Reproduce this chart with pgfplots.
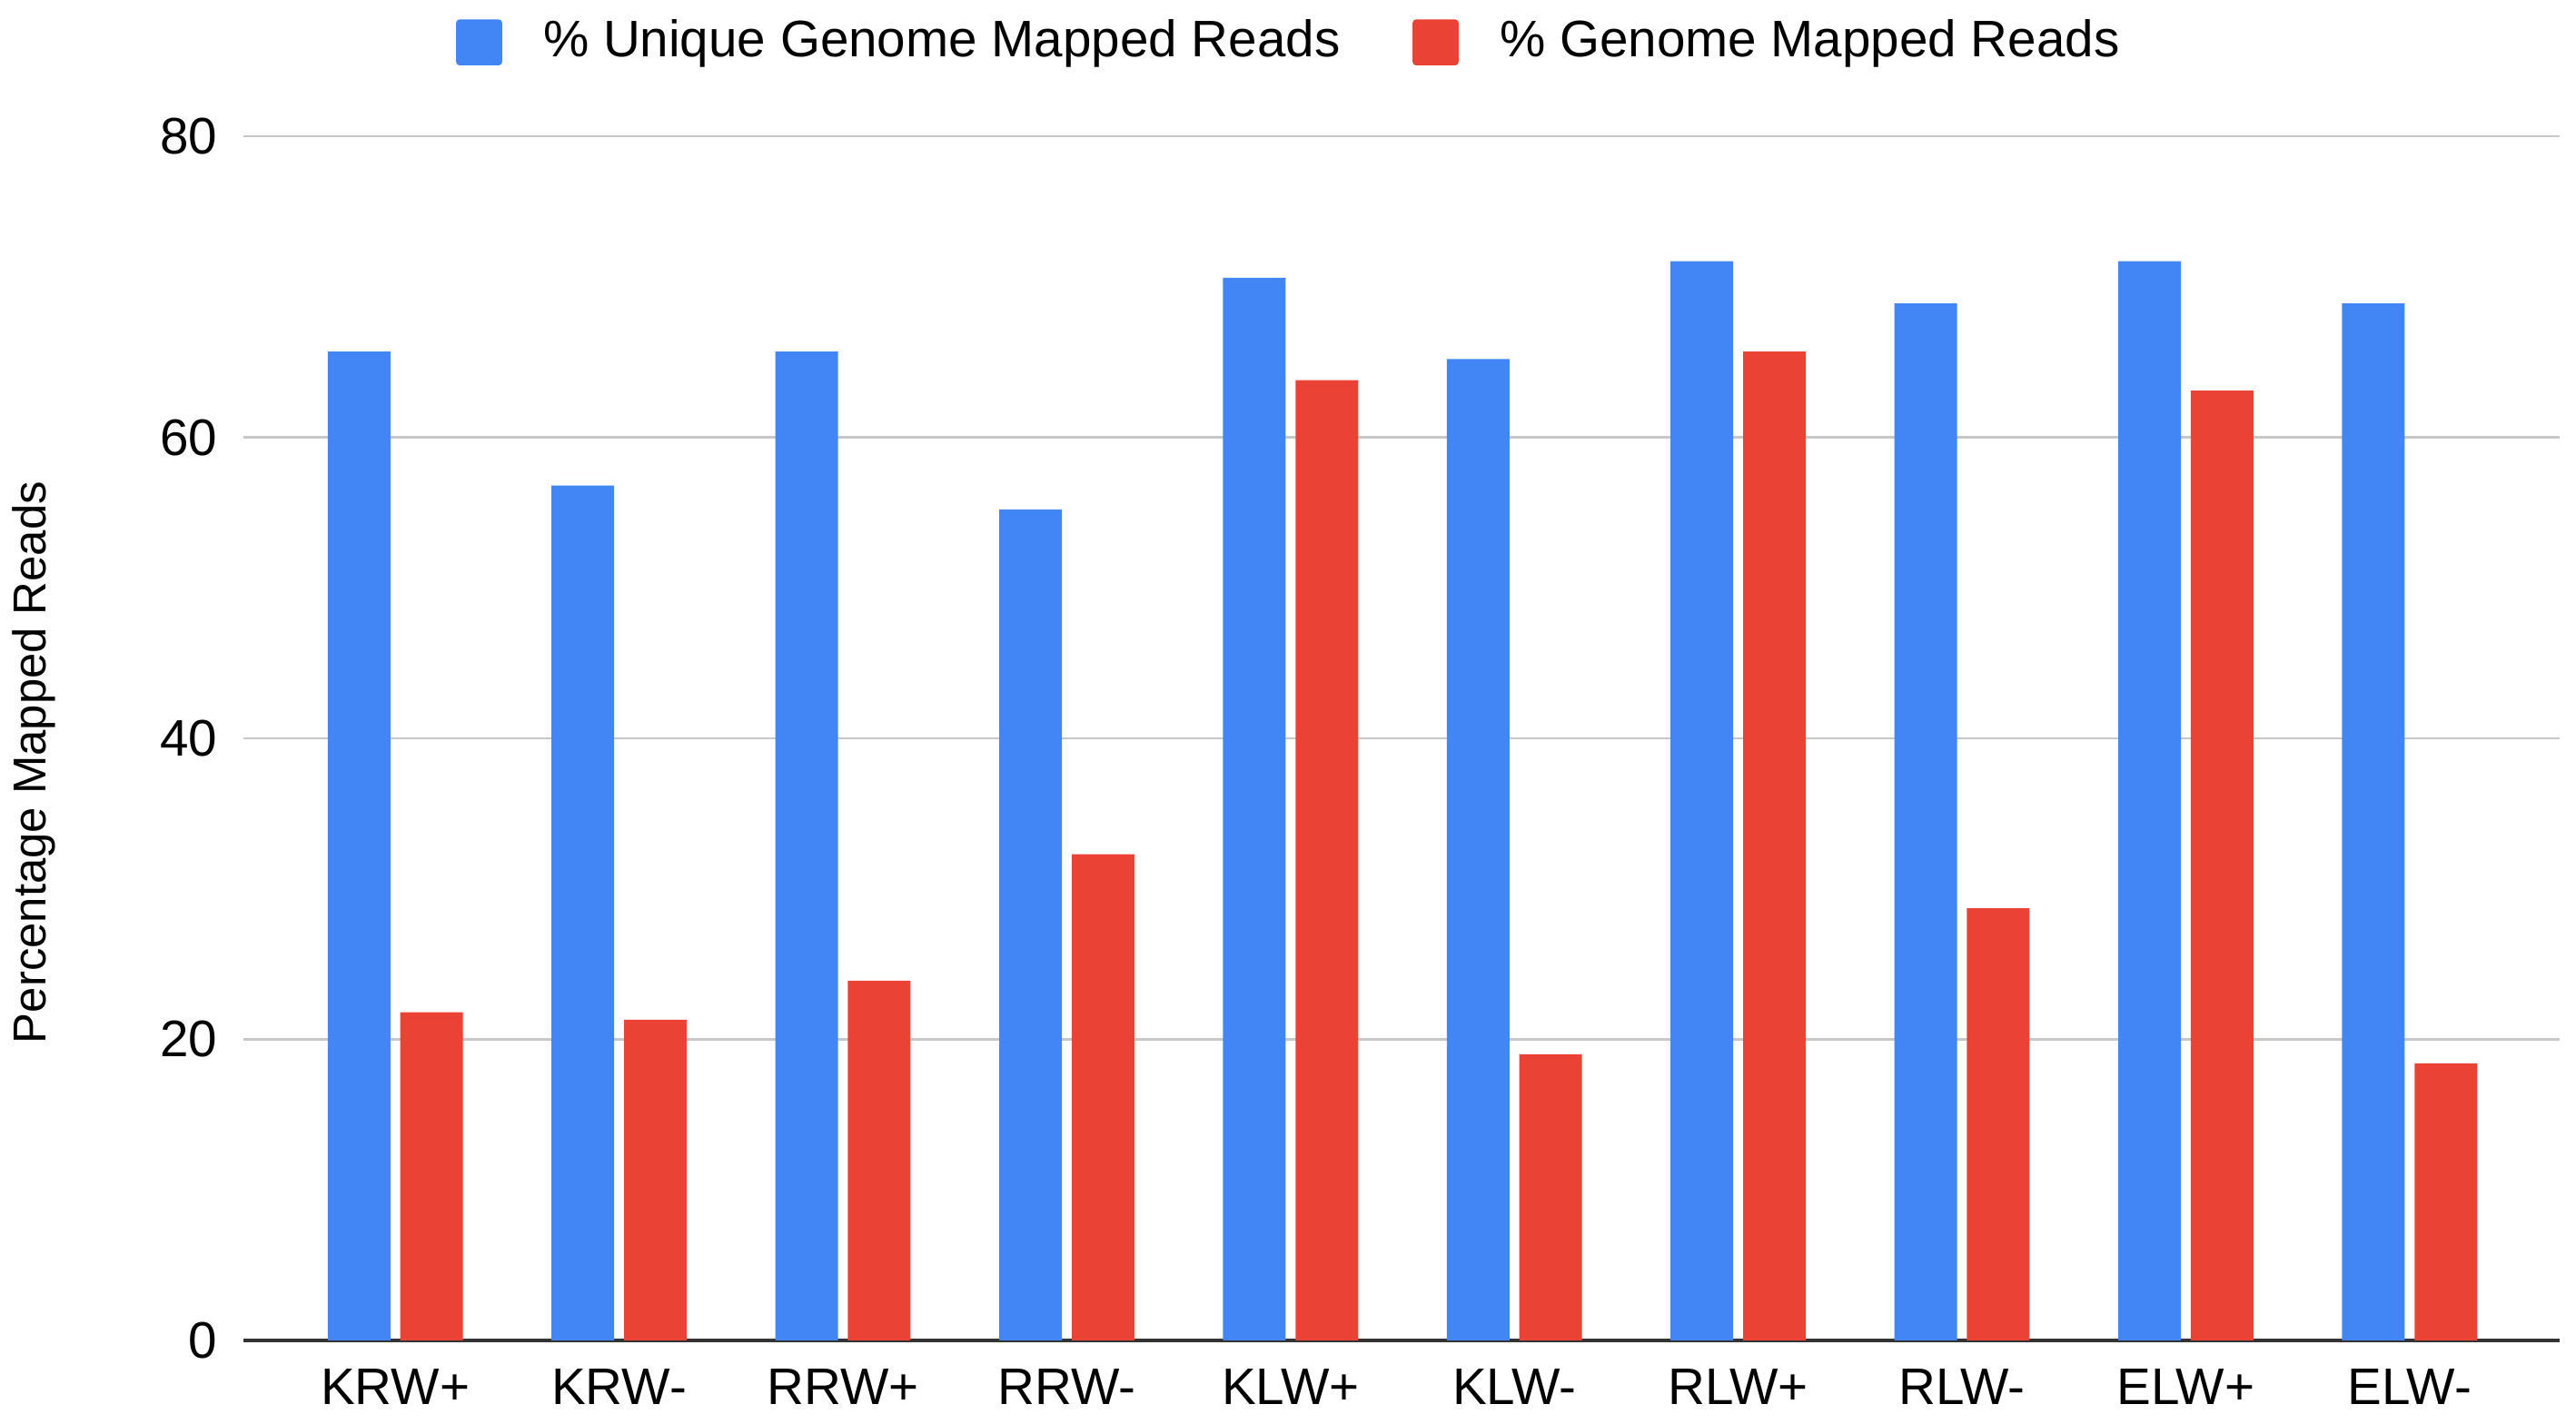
\documentclass[border=0pt]{standalone}
\usepackage{pgfplots}
\pgfplotsset{compat=1.18}
\usepackage{fontspec}
\setmainfont{Liberation Sans}

\definecolor{gblue}{HTML}{4285F4}
\definecolor{gred}{HTML}{EA4335}

\begin{document}
\begin{tikzpicture}
    \begin{axis}[
            at={(0,0)}, anchor=south west,
            width=14.10cm, height=7.33cm,
            scale only axis,
            ymin=0, ymax=80,
            ytick={0,20,...,80},
            xmin=-0.68, xmax=9.67,
            xtick={0,...,9},
            xticklabels={KRW+,KRW-,RRW+,RRW-,KLW+,KLW-,RLW+,RLW-,ELW+,ELW-},
            major tick length=0pt,
            axis lines*=left,
            y axis line style={draw=none},
            x axis line style={black!80, line width=0.6pt, -},
            ymajorgrids,
            major grid style={black!22, line width=0.35pt},
            /pgf/number format/assume math mode=true,
            tick label style={font=\fontsize{8.9}{10}\selectfont},
            yticklabel style={inner xsep=0pt, xshift=-0.15cm},
            xticklabel style={yshift=-0.05cm},
            ylabel={Percentage Mapped Reads},
            ylabel style={font=\fontsize{8}{10}\selectfont, inner sep=0pt,
                at={(axis description cs:-0.0905,0.48)}, anchor=center},
            ybar, bar width=0.28,
            legend columns=2,
            legend style={draw=none, fill=none, inner sep=0pt, at={(0.4535,1.078)}, anchor=center,
                font=\fontsize{8.9}{10}\selectfont,
                /tikz/every even column/.append style={column sep=0.37cm},
                cells={anchor=west}},
            legend image code/.code={
                \fill[rounded corners=0.6pt] (0cm,-0.14cm) rectangle (0.28cm,0.14cm);
                \path (0.46cm,0cm);},
        ]

            \addplot[draw=none, fill=gblue, bar shift=-0.162] coordinates {
                (0,65.7) (1,56.8) (2,65.7) (3,55.2) (4,70.6)
                (5,65.2) (6,71.7) (7,68.9) (8,71.7) (9,68.9)
            };
            \addlegendentry{\% Unique Genome Mapped Reads}

            \addplot[draw=none, fill=gred, bar shift=0.162] coordinates {
                (0,21.8) (1,21.3) (2,23.9) (3,32.3) (4,63.8)
                (5,19.0) (6,65.7) (7,28.7) (8,63.1) (9,18.4)
            };
            \addlegendentry{\% Genome Mapped Reads}
    \end{axis}
    \path (-1.48,-0.44) rectangle (14.20,8.16);
\end{tikzpicture}
\end{document}
